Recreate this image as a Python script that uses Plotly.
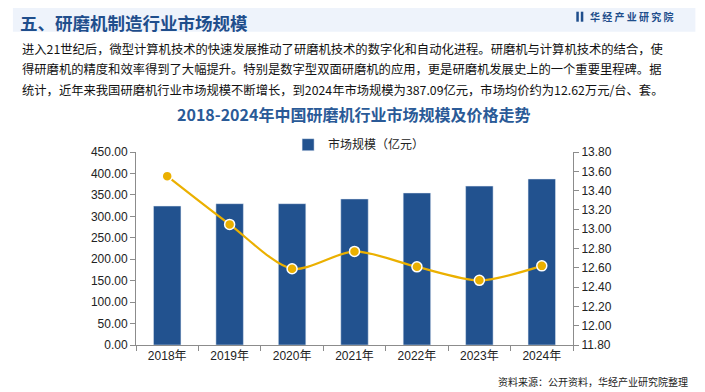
import plotly.graph_objects as go

years = ["2018年", "2019年", "2020年", "2021年", "2022年", "2023年", "2024年"]
market_size = [324.0, 329.5, 329.5, 340.5, 354.5, 370.5, 387.09]
avg_price = [13.55, 13.05, 12.59, 12.77, 12.61, 12.47, 12.62]

header = "五、研磨机制造行业市场规模"
brand = "华 经 产 业 研 究 院"
para = [
    "进入21世纪后，微型计算机技术的快速发展推动了研磨机技术的数字化和自动化进程。研磨机与计算机技术的结合，使",
    "得研磨机的精度和效率得到了大幅提升。特别是数字型双面研磨机的应用，更是研磨机发展史上的一个重要里程碑。据",
    "统计，近年来我国研磨机行业市场规模不断增长，到2024年市场规模为387.09亿元，市场均价约为12.62万元/台、套。",
]
chart_title = "2018-2024年中国研磨机行业市场规模及价格走势"
source = "资料来源：公开资料，华经产业研究院整理"

# page body has an 8px default margin; compensate so screen coords match
OFF = 8
W, H = 705 - OFF, 392 - OFF
X0, X1, Y0, Y1 = 136 - OFF, 572.7 - OFF, 152.3 - OFF, 345.3 - OFF
L, R, T, B = X0, W - X1, Y0, H - Y1
PW, PH = X1 - X0, Y1 - Y0

def px(x):
    return (x - OFF - X0) / PW

def py(y):
    return (Y1 - (y - OFF)) / PH

CJK = "Noto Sans CJK SC"
NUM = "Liberation Sans, Noto Sans CJK SC"
BLUE = "#22528f"

fig = go.Figure()
fig.add_trace(go.Bar(
    x=years, y=market_size, name="市场规模（亿元）",
    marker=dict(color=BLUE), yaxis="y", width=0.44,
))
fig.add_trace(go.Scatter(
    x=years, y=avg_price, mode="lines+markers", yaxis="y2", showlegend=False,
    line=dict(color="#ebb000", width=2.2, shape="spline", smoothing=0.8),
    marker=dict(color="#ebb000", size=10, line=dict(color="white", width=1.5)),
))

axis_common = dict(showline=True, linecolor="#8c8c8c", linewidth=1, ticks="outside",
                   ticklen=5, tickcolor="#8c8c8c", showgrid=False, zeroline=False,
                   tickfont=dict(family=NUM, size=12, color="#222"))

fig.update_layout(
    width=W, height=H,
    margin=dict(l=L, r=R, t=T, b=B, pad=0, autoexpand=False),
    paper_bgcolor="white", plot_bgcolor="white",
    bargap=0.56,
    xaxis=dict(**axis_common, tickson="boundaries", automargin=False),
    yaxis=dict(**axis_common, range=[0, 450], dtick=50, tickformat=".2f", automargin=False),
    yaxis2=dict(**axis_common, range=[11.8, 13.8], dtick=0.2, tickformat=".2f",
                overlaying="y", side="right", automargin=False),
    showlegend=True,
    legend=dict(orientation="h", x=px(288), y=py(145), xanchor="left", yanchor="middle",
                font=dict(family=CJK, size=12, color="#222"), bgcolor="rgba(0,0,0,0)",
                itemwidth=30),
)

shapes = [
    dict(type="rect", xref="paper", yref="paper", x0=px(13), x1=px(695), y0=py(32), y1=py(4),
         fillcolor="#eef3fb", line=dict(width=0), layer="below"),
    dict(type="rect", xref="paper", yref="paper", x0=px(576), x1=px(578.5), y0=py(22), y1=py(12),
         fillcolor="#1f4e8c", line=dict(width=0)),
    dict(type="rect", xref="paper", yref="paper", x0=px(580.5), x1=px(583), y0=py(22), y1=py(12),
         fillcolor="#1f4e8c", line=dict(width=0)),
]
fig.update_layout(shapes=shapes)

ann = []
ann.append(dict(text=header, x=px(18), y=py(8.5), xref="paper", yref="paper", xanchor="left",
                yanchor="top", showarrow=False,
                font=dict(family=CJK, size=17.5, color="#1f4e8c", weight="bold")))
ann.append(dict(text=brand, x=px(588), y=py(17), xref="paper", yref="paper", xanchor="left",
                yanchor="middle", showarrow=False,
                font=dict(family=CJK, size=10, color="#1f4e8c", weight="bold")))
for i, line in enumerate(para):
    ann.append(dict(text=line, x=px(20), y=py(49 + i * 20.5), xref="paper", yref="paper",
                    xanchor="left", yanchor="middle", showarrow=False,
                    font=dict(family=CJK, size=12.3, color="#111")))
ann.append(dict(text=chart_title, x=px(353), y=py(114), xref="paper", yref="paper",
                xanchor="center", yanchor="middle", showarrow=False,
                font=dict(family=CJK, size=16, color="#2a5a97", weight="bold")))
ann.append(dict(text=source, x=px(690), y=py(382), xref="paper", yref="paper",
                xanchor="right", yanchor="middle", showarrow=False,
                font=dict(family=CJK, size=10, color="#222")))
fig.update_layout(annotations=ann)

fig.write_html("out.html")
